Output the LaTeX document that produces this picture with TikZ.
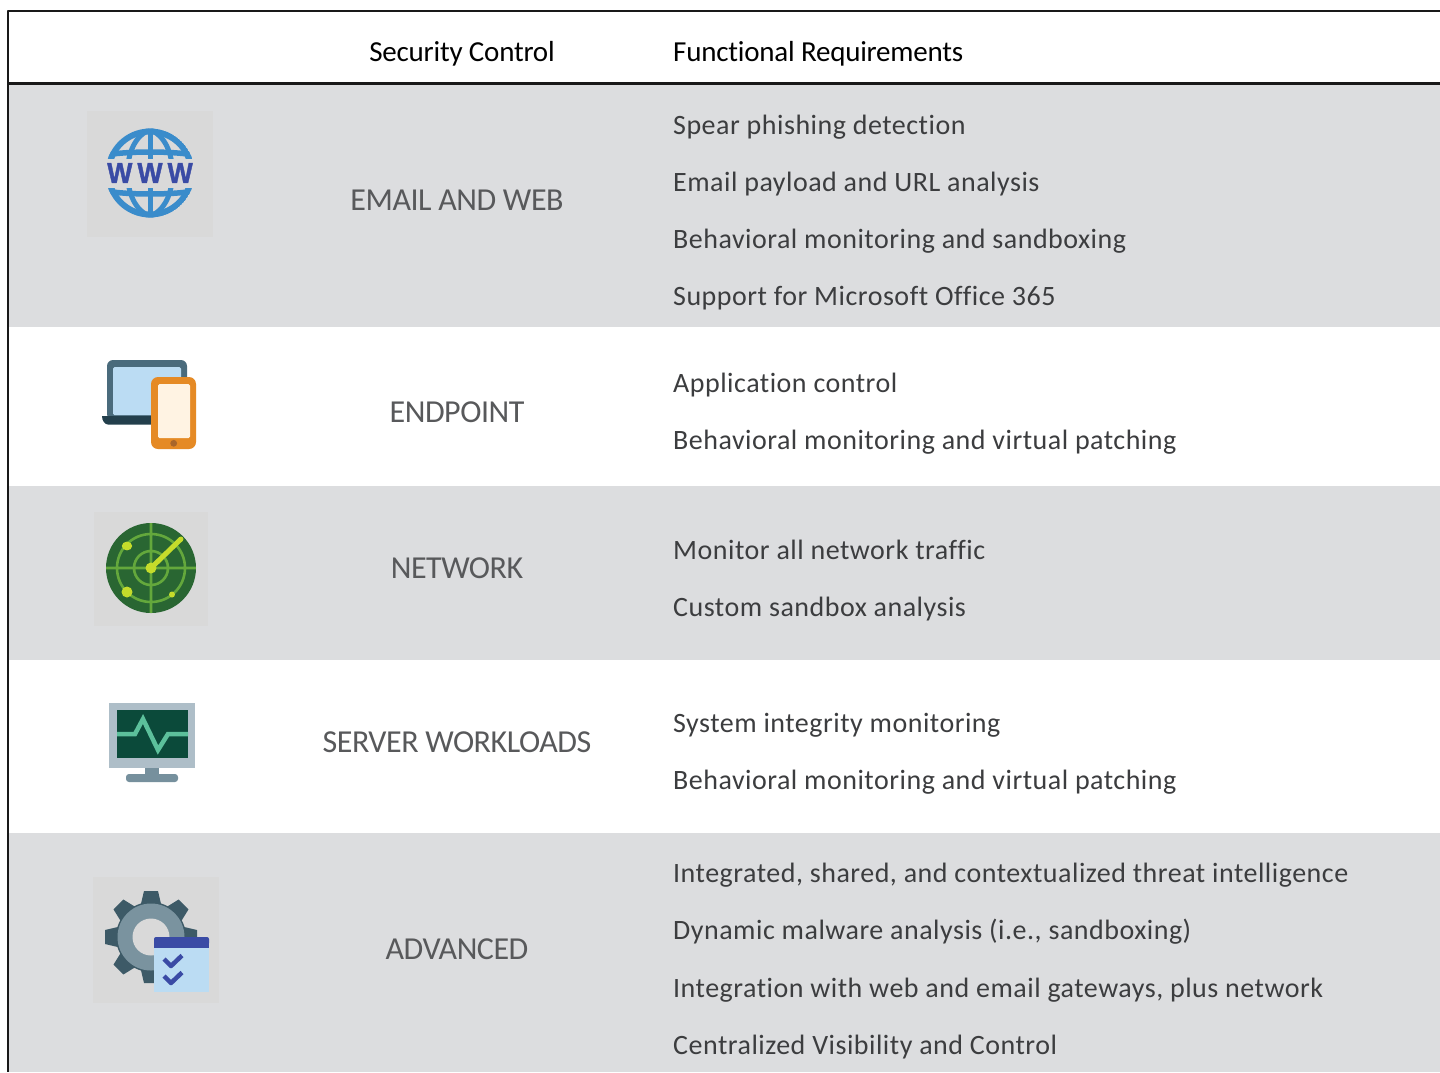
\documentclass[tikz,border=0pt]{standalone}
\usepackage{fontspec}
\setmainfont{Carlito}
\newfontfamily\bodyfont[LetterSpace=1.8,Ligatures=NoCommon]{Carlito}
\newfontfamily\labelfont[LetterSpace=-1.5,Ligatures=NoCommon]{Carlito}
\newfontfamily\headfont[LetterSpace=-0.75,Ligatures=NoCommon]{Carlito}
\newfontfamily\wwwfont[FakeBold=1.4]{Liberation Sans Bold}
\definecolor{rowgray}{HTML}{DCDDDF}
\definecolor{iconbg}{HTML}{D9D9D9}
\definecolor{bodytxt}{HTML}{3C3D3F}
\definecolor{labeltxt}{HTML}{58595B}
\definecolor{globeblue}{HTML}{3A8CCB}
\definecolor{wwwblue}{HTML}{3A4BA5}
\definecolor{lapdark}{HTML}{4A6B7C}
\definecolor{lapbase}{HTML}{233F4C}
\definecolor{lightblue}{HTML}{BBDCF3}
\definecolor{phoneor}{HTML}{E58A25}
\definecolor{phonein}{HTML}{FFF3E3}
\definecolor{phonebtn}{HTML}{A9662A}
\definecolor{radardark}{HTML}{296632}
\definecolor{radarline}{HTML}{64A83C}
\definecolor{radarlime}{HTML}{C5DC2B}
\definecolor{monframe}{HTML}{AEBEC8}
\definecolor{monscreen}{HTML}{0B4A3A}
\definecolor{monline}{HTML}{5CC09B}
\definecolor{monstand}{HTML}{76909D}
\definecolor{geardark}{HTML}{3D5A67}
\definecolor{gearring}{HTML}{7A939F}
\tikzset{
  bodyline/.style={anchor=base west,inner sep=0pt,text=bodytxt,font=\fontsize{28}{28}\selectfont\bodyfont},
  rowlabel/.style={anchor=base,inner sep=0pt,text=labeltxt,font=\fontsize{32}{32}\selectfont\labelfont},
  headlabel/.style={anchor=base,inner sep=0pt,text=black,font=\fontsize{29}{29}\selectfont\headfont},
}
\newcommand{\wwwletter}{\scalebox{.92}[1]{W}}
\begin{document}
\begin{tikzpicture}[x=1pt,y=-1pt,line join=round]
\useasboundingbox (0,0) rectangle (1440,1072);
\fill[white] (0,0) rectangle (1440,1072);
% rows
\fill[rowgray] (8,84) rectangle (1440,327);
\fill[rowgray] (8,486) rectangle (1440,660);
\fill[rowgray] (8,833) rectangle (1440,1072);
% frame
\draw[line width=2pt,black!90] (1440,11) -- (8,11) -- (8,1072);
\draw[line width=3pt,black!90] (8,83) -- (1440,83);
% header
\node[headlabel] (hsec) at (462,61) {Security Control};
\node[headlabel,anchor=base west] (hfun) at (673,61) {Functional Requirements};
% labels
\node[rowlabel] (l1) at (457,210) {EMAIL AND WEB};
\node[rowlabel] (l2) at (457,422) {ENDPOINT};
\node[rowlabel] (l3) at (457,578) {NETWORK};
\node[rowlabel] (l4) at (457,752) {SERVER WORKLOADS};
\node[rowlabel] (l5) at (457,959) {ADVANCED};
% body
\node[bodyline] (b1) at (673,134) {Spear phishing detection};
\node[bodyline] (b2) at (673,191) {Email payload and URL analysis};
\node[bodyline] (b3) at (673,248) {Behavioral monitoring and sandboxing};
\node[bodyline] (b4) at (673,305) {Support for Microsoft Office 365};
\node[bodyline] (b5) at (673,392) {Application control};
\node[bodyline] (b6) at (673,449) {Behavioral monitoring and virtual patching};
\node[bodyline] (b7) at (673,559) {Monitor all network traffic};
\node[bodyline] (b8) at (673,616) {Custom sandbox analysis};
\node[bodyline] (b9) at (673,732) {System integrity monitoring};
\node[bodyline] (b10) at (673,789) {Behavioral monitoring and virtual patching};
\node[bodyline] (b11) at (673,882) {Integrated, shared, and contextualized threat intelligence};
\node[bodyline] (b12) at (673,939) {Dynamic malware analysis (i.e., sandboxing)};
\node[bodyline] (b13) at (673,997) {Integration with web and email gateways, plus network};
\node[bodyline] (b14) at (673,1054) {Centralized Visibility and Control};
% WWW icon
\fill[iconbg] (87,111) rectangle (213,237);
\begin{scope}
\clip (150,173) circle (44.5);
\begin{scope}[even odd rule]
\fill[globeblue] (150,173) circle (44.5) (150,173) circle (38.5);
\end{scope}
\draw[globeblue,line width=5pt] (150,125) -- (150,221);
\draw[globeblue,line width=5pt] (150,130) .. controls (120,140) and (120,206) .. (150,216);
\draw[globeblue,line width=5pt] (150,130) .. controls (180,140) and (180,206) .. (150,216);
\draw[globeblue,line width=5.5pt] (105,155) .. controls (130,151) and (170,151) .. (195,155);
\draw[globeblue,line width=5.5pt] (105,191) .. controls (130,195) and (170,195) .. (195,191);
\end{scope}
\fill[iconbg] (100,159) rectangle (200,188);
\node[inner sep=0pt,text=wwwblue,font=\fontsize{29}{29}\selectfont\wwwfont] (www) at (150,173) {\wwwletter\hspace{5pt}\wwwletter\hspace{5pt}\wwwletter};
% laptop/phone icon
\fill[lapdark,rounded corners=6pt] (107,360) rectangle (187,420);
\fill[lightblue,rounded corners=1.5pt] (113,367) rectangle (181,415);
\fill[lapbase] (102,416) -- (160,416) -- (160,424.5) -- (108,424.5) .. controls (105,424.5) and (102,421) .. (102,416) -- cycle;
\fill[phoneor,rounded corners=7pt] (151,377) rectangle (196,449);
\fill[phonein,rounded corners=1.5pt] (158,384) rectangle (190,438);
\fill[phonebtn] (173.7,443.3) circle (3.4);
% radar icon
\fill[iconbg] (94,512) rectangle (208,626);
\fill[radardark] (151,568) circle (45);
\begin{scope}
\clip (151,568) circle (45);
\draw[radarline,line width=2.6pt] (151,568) circle (17) (151,568) circle (34) (106,568) -- (196,568) (151,523) -- (151,613);
\end{scope}
\draw[radarlime,line width=5pt,line cap=round] (151,568) -- (181,539);
\fill[radarlime] (151,568) circle (5.5);
\fill[radarlime] (127,546) ellipse (5.2 and 4.4);
\fill[radarlime] (127,592) circle (5.5);
\fill[radarlime] (172,594.5) circle (3);
% monitor icon
\fill[monframe] (109,703) rectangle (195,768);
\fill[monscreen] (117,710) rectangle (188,758);
\draw[monline,line width=4.5pt,line join=miter] (117,734) -- (135,734) -- (143,719) -- (158,750) -- (168,734) -- (188,734);
\fill[monstand] (145,768) rectangle (159,775);
\fill[monstand,rounded corners=3pt] (126,782) -- (126,774) -- (178,774) -- (178,782) -- cycle;
% gear icon
\fill[iconbg] (93,877) rectangle (219,1003);
\foreach \a in {0,45,...,315}{
  \fill[geardark,rotate around={\a:(151,937)}] (140,908) -- (144,891) -- (158,891) -- (162,908) -- cycle;
}
\fill[geardark] (151,937) circle (35);
\fill[gearring] (151,937) circle (33.5);
\fill[iconbg] (151,937) circle (18.5);
\fill[lightblue] (154,941) rectangle (209,992);
\fill[wwwblue,rounded corners=2pt] (154,937) rectangle (209,945);
\fill[wwwblue] (154,941) rectangle (209,948);
\draw[wwwblue,line width=4.5pt] (164,959) -- (171,966) -- (182,955.5);
\draw[wwwblue,line width=4.5pt] (164,976) -- (171,983) -- (182,972.5);
\end{tikzpicture}
\end{document}
